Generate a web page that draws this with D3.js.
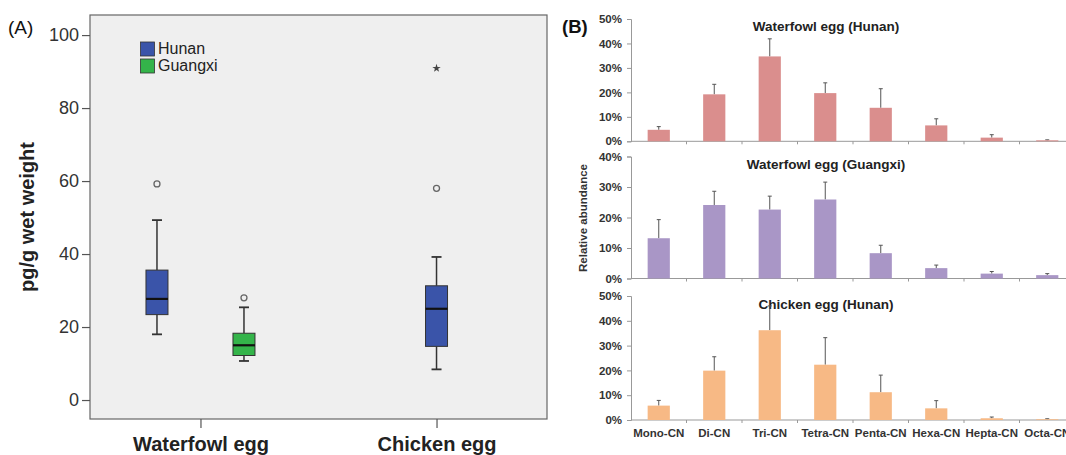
<!DOCTYPE html>
<html><head><meta charset="utf-8">
<script src="https://cdn.jsdelivr.net/npm/d3@7"></script>
<style>
html,body{margin:0;padding:0;background:#fff;}
svg{display:block;font-family:"Liberation Sans",Arial,sans-serif;}
</style></head>
<body><svg id="c" width="1066" height="455"></svg>
<script>
// ---------- Panel A data ----------
const eggTypes = ["Waterfowl egg", "Chicken egg"];
const regions = ["Hunan", "Guangxi"];
const regionColors = ["#3a54a9", "#34b44a"];
const yTicksA = [0, 20, 40, 60, 80, 100];
// box stats: [whiskerLow, q1, median, q3, whiskerHigh]
const boxEgg    = ["Waterfowl egg", "Waterfowl egg", "Chicken egg"];
const boxRegion = ["Hunan", "Guangxi", "Hunan"];
const boxStats  = [[18, 23.4, 27.7, 35.6, 49.3], [10.7, 12.2, 15, 18.3, 25.4], [8.4, 14.7, 25, 31.3, 39.2]];
const outlierEgg    = ["Waterfowl egg", "Waterfowl egg", "Chicken egg"];
const outlierRegion = ["Hunan", "Guangxi", "Hunan"];
const outlierValue  = [59.2, 28, 58];
const extremeEgg = ["Chicken egg"];
const extremeRegion = ["Hunan"];
const extremeValue = [90.9];

// ---------- Panel B data ----------
const congeners = ["Mono-CN","Di-CN","Tri-CN","Tetra-CN","Penta-CN","Hexa-CN","Hepta-CN","Octa-CN"];
const panelTitles = ["Waterfowl egg (Hunan)", "Waterfowl egg (Guangxi)", "Chicken egg (Hunan)"];
const panelColors = ["#da8e8d", "#a996c6", "#f7b985"];
const panelMax = [0.5, 0.4, 0.5];
const meanWH = [0.047, 0.192, 0.347, 0.197, 0.137, 0.065, 0.015, 0.004];
const errWH  = [0.060, 0.233, 0.419, 0.239, 0.215, 0.092, 0.027, 0.006];
const meanWG = [0.132, 0.241, 0.226, 0.259, 0.083, 0.034, 0.016, 0.011];
const errWG  = [0.193, 0.286, 0.270, 0.316, 0.109, 0.044, 0.023, 0.016];
const meanCH = [0.058, 0.199, 0.362, 0.223, 0.112, 0.047, 0.007, 0.003];
const errCH  = [0.079, 0.255, 0.460, 0.332, 0.181, 0.078, 0.012, 0.005];

const svg = d3.select("#c");

// =============== Panel A ===============
const A = {l: 90, r: 547, t: 15, b: 419};
const yA = d3.scaleLinear().domain([-5.2, 105.5]).range([A.b, A.t]);
const xA = d3.scalePoint().domain(eggTypes).range([A.l, A.r]).padding(0.468);
const color = d3.scaleOrdinal().domain(regions).range(regionColors);
const gA = svg.append("g");

gA.append("rect").attr("x", A.l).attr("y", A.t).attr("width", A.r - A.l).attr("height", A.b - A.t)
  .attr("fill", "#efefef").attr("stroke", "#666").attr("stroke-width", 1.2);

// y axis
const yAx = gA.append("g").attr("transform", `translate(${A.l},0)`)
  .call(d3.axisLeft(yA).tickValues(yTicksA).tickSize(8).tickPadding(3));
yAx.select(".domain").remove();
yAx.selectAll("line").attr("stroke", "#555").attr("stroke-width", 1.2);
yAx.selectAll("text").attr("font-size", 18).attr("fill", "#333").attr("font-family", "Liberation Sans, Arial, sans-serif");

// x axis
const xAx = gA.append("g").attr("transform", `translate(0,${A.b})`)
  .call(d3.axisBottom(xA).tickSize(9).tickPadding(9));
xAx.select(".domain").remove();
xAx.selectAll("line").attr("stroke", "#555").attr("stroke-width", 1.2);
xAx.selectAll("text").attr("font-size", 20).attr("font-weight", "bold").attr("fill", "#222")
  .attr("font-family", "Liberation Sans, Arial, sans-serif");

gA.append("text").attr("transform", `translate(34,217) rotate(-90)`).attr("text-anchor", "middle")
  .attr("font-size", 20).attr("font-weight", "bold").attr("fill", "#222").text("pg/g wet weight");

// group offset
function groupX(egg, region) {
  const present = regions.filter(r => boxEgg.some((e, i) => e === egg && boxRegion[i] === r));
  const n = present.length;
  const k = present.indexOf(region);
  const off = 87;
  return xA(egg) + (k - (n - 1) / 2) * off;
}
const boxW = 22, capW = 10;
boxStats.forEach((s, i) => {
  const cx = groupX(boxEgg[i], boxRegion[i]);
  const g = gA.append("g");
  g.append("line").attr("x1", cx).attr("x2", cx).attr("y1", yA(s[0])).attr("y2", yA(s[1])).attr("stroke", "#333").attr("stroke-width", 1.5);
  g.append("line").attr("x1", cx).attr("x2", cx).attr("y1", yA(s[3])).attr("y2", yA(s[4])).attr("stroke", "#333").attr("stroke-width", 1.5);
  [s[0], s[4]].forEach(v => g.append("line").attr("x1", cx - capW / 2).attr("x2", cx + capW / 2)
    .attr("y1", yA(v)).attr("y2", yA(v)).attr("stroke", "#333").attr("stroke-width", 1.8));
  g.append("rect").attr("x", cx - boxW / 2).attr("y", yA(s[3])).attr("width", boxW).attr("height", yA(s[1]) - yA(s[3]))
    .attr("fill", color(boxRegion[i])).attr("stroke", "#333").attr("stroke-width", 1);
  g.append("line").attr("x1", cx - boxW / 2).attr("x2", cx + boxW / 2).attr("y1", yA(s[2])).attr("y2", yA(s[2]))
    .attr("stroke", "#111").attr("stroke-width", 2.2);
});
outlierValue.forEach((v, i) => {
  gA.append("circle").attr("cx", groupX(outlierEgg[i], outlierRegion[i])).attr("cy", yA(v)).attr("r", 3)
    .attr("fill", "none").attr("stroke", "#666").attr("stroke-width", 1.3);
});
extremeValue.forEach((v, i) => {
  gA.append("path").attr("d", d3.symbol(d3.symbolStar, 22)())
    .attr("transform", `translate(${groupX(extremeEgg[i], extremeRegion[i])},${yA(v)})`).attr("fill", "#444");
});

// legend
regions.forEach((r, i) => {
  const y = 42 + i * 17;
  gA.append("rect").attr("x", 140.5).attr("y", y).attr("width", 14).attr("height", 14)
    .attr("fill", color(r)).attr("stroke", "#333").attr("stroke-width", 0.8);
  gA.append("text").attr("x", 158).attr("y", y + 12).attr("font-size", 16).attr("fill", "#222").text(r);
});

svg.append("text").attr("x", 8).attr("y", 34).attr("font-size", 19).attr("fill", "#111").text("(A)");
svg.append("text").attr("x", 562).attr("y", 33).attr("font-size", 18.5).attr("font-weight", "bold").attr("fill", "#111").text("(B)");

// =============== Panel B ===============
const xB = d3.scaleBand().domain(congeners).range([631, 1075]).paddingInner(0.6).paddingOuter(0.3);
const panels = [
  {title: panelTitles[0], mean: meanWH, err: errWH, max: panelMax[0], y0: 141.3, y1: 19, ty: 31},
  {title: panelTitles[1], mean: meanWG, err: errWG, max: panelMax[1], y0: 278.5, y1: 156.5, ty: 169},
  {title: panelTitles[2], mean: meanCH, err: errCH, max: panelMax[2], y0: 420, y1: 296, ty: 309},
];
panels.forEach((p, pi) => {
  const y = d3.scaleLinear().domain([0, p.max]).range([p.y0, p.y1]);
  const g = svg.append("g");
  const col = panelColors[pi];
  // title
  g.append("text").attr("x", 826).attr("y", p.ty).attr("text-anchor", "middle").attr("font-size", 13.5)
    .attr("font-weight", "bold").attr("fill", "#222").text(p.title);
  // y axis
  const yAx = g.append("g").attr("transform", "translate(631,0)")
    .call(d3.axisLeft(y).ticks(p.max * 10).tickFormat(d3.format(".0%")).tickSize(4).tickPadding(5));
  yAx.select(".domain").attr("stroke", "#999");
  yAx.selectAll("line").attr("stroke", "#999");
  yAx.selectAll("text").attr("font-size", 11.5).attr("font-weight", "bold").attr("fill", "#333")
    .attr("font-family", "Liberation Sans, Arial, sans-serif");
  // x baseline with boundary ticks
  g.append("line").attr("x1", 631).attr("x2", 1075).attr("y1", p.y0).attr("y2", p.y0).attr("stroke", "#999");
  congeners.forEach((c, i) => {
    const bx = 631 + (i + 1) * xB.step();
    g.append("line").attr("x1", bx).attr("x2", bx).attr("y1", p.y0).attr("y2", p.y0 + 3).attr("stroke", "#999");
  });
  // bars
  congeners.forEach((c, i) => {
    const cx = xB(c) + xB.bandwidth() / 2;
    g.append("line").attr("x1", cx).attr("x2", cx).attr("y1", y(p.mean[i])).attr("y2", y(p.err[i]))
      .attr("stroke", "#555").attr("stroke-width", 1);
    g.append("line").attr("x1", cx - 2).attr("x2", cx + 2).attr("y1", y(p.err[i])).attr("y2", y(p.err[i]))
      .attr("stroke", "#555").attr("stroke-width", 1);
    g.append("rect").attr("x", xB(c)).attr("y", y(p.mean[i])).attr("width", xB.bandwidth())
      .attr("height", p.y0 - y(p.mean[i])).attr("fill", col);
  });
  if (pi === 2) {
    congeners.forEach(c => {
      g.append("text").attr("x", xB(c) + xB.bandwidth() / 2).attr("y", 437).attr("text-anchor", "middle")
        .attr("font-size", 11.5).attr("font-weight", "bold").attr("fill", "#333").text(c);
    });
  }
});
svg.append("text").attr("transform", "translate(587,218) rotate(-90)").attr("text-anchor", "middle")
  .attr("font-size", 11.5).attr("font-weight", "bold").attr("fill", "#333").text("Relative abundance");
</script></body></html>
